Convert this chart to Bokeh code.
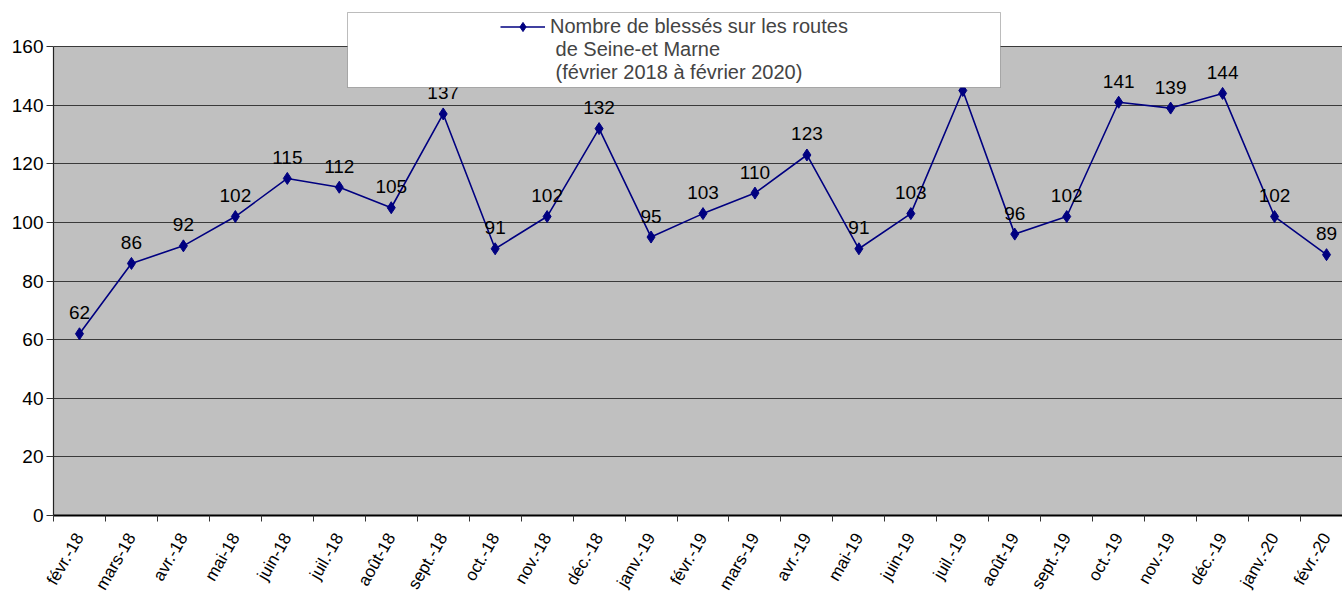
import math
from bokeh.plotting import figure
from bokeh.models import (ColumnDataSource, FixedTicker, Legend, LegendItem, BoxAnnotation)
from bokeh.core.properties import value
from bokeh.embed import file_html
from bokeh.resources import INLINE

months = ["févr.-18", "mars-18", "avr.-18", "mai-18", "juin-18", "juil.-18", "août-18",
          "sept.-18", "oct.-18", "nov.-18", "déc.-18", "janv.-19", "févr.-19", "mars-19",
          "avr.-19", "mai-19", "juin-19", "juil.-19", "août-19", "sept.-19", "oct.-19",
          "nov.-19", "déc.-19", "janv.-20", "févr.-20"]
blesses = [62, 86, 92, 102, 115, 112, 105, 137, 91, 102, 132, 95, 103, 110, 123,
           91, 103, 145, 96, 102, 141, 139, 144, 102, 89]
legend_lines = ["Nombre de blessés sur les routes", " de Seine-et Marne",
                " (février 2018 à février 2020)"]
y_ticks = list(range(0, 161, 20))

FONT = "Liberation Sans"
xs = list(range(len(months)))
src = ColumnDataSource(dict(x=xs, y=blesses, lab=[str(v) for v in blesses]))

PX_X = 51.96   # px per category
PX_Y = 2.931   # px per unit
p = figure(width=1342, height=603, output_backend="svg", toolbar_location=None,
           x_range=(-0.5, -0.5 + 1289 / PX_X), y_range=(0, 510 / PX_Y),
           min_border_left=53, min_border_right=0, min_border_top=5, min_border_bottom=88)
p.background_fill_color = "white"
p.border_fill_color = "white"
p.outline_line_color = None

# grey plot area from 0 to 160 (drawn below the grid)
p.add_layout(BoxAnnotation(top=160, fill_color="#c0c0c0", fill_alpha=1.0,
                           line_color=None, level="image"))

p.xgrid.grid_line_color = None
p.ygrid.grid_line_color = "#3a3a3a"
p.ygrid.grid_line_width = 1
p.ygrid.ticker = FixedTicker(ticks=y_ticks)

p.yaxis.ticker = FixedTicker(ticks=y_ticks)
p.yaxis.bounds = (0, 160)
p.yaxis.axis_line_color = "#222222"
p.yaxis.axis_line_width = 1.2
p.yaxis.major_tick_in = 0
p.yaxis.major_tick_out = 7
p.yaxis.major_tick_line_color = "#333333"
p.yaxis.minor_tick_line_color = None
p.yaxis.major_label_text_font = FONT
p.yaxis.major_label_text_font_size = "19px"
p.yaxis.major_label_text_color = "black"
p.yaxis.major_label_standoff = 3

p.xaxis.ticker = FixedTicker(ticks=xs, minor_ticks=[i - 0.5 for i in range(len(months) + 1)])
p.xaxis.major_label_overrides = {i: m for i, m in enumerate(months)}
p.xaxis.major_tick_line_color = None
p.xaxis.minor_tick_in = 0
p.xaxis.minor_tick_out = 6
p.xaxis.minor_tick_line_color = "#333333"
p.xaxis.axis_line_color = "black"
p.xaxis.axis_line_width = 2
p.xaxis.major_label_orientation = math.pi / 3
p.xaxis.major_label_text_font = FONT
p.xaxis.major_label_text_font_size = "17px"
p.xaxis.major_label_text_color = "black"
p.xaxis.major_label_standoff = 13

line = p.line("x", "y", source=src, line_color="#000080", line_width=1.6)
pts = p.scatter("x", "y", source=src, marker="diamond", size=12,
                fill_color="#000080", line_color="#000080")
p.text("x", "y", text="lab", source=src, text_align="center", text_baseline="middle",
       y_offset=-21, text_font=value(FONT), text_font_size="19px", text_color="black")

box = BoxAnnotation(left=-0.5 + (347 - 53) / PX_X, right=-0.5 + (1000 - 53) / PX_X,
                    top=(515 - 12) / PX_Y, bottom=(515 - 87) / PX_Y,
                    fill_color="white", fill_alpha=1.0, line_color="#222222", line_width=1)
p.add_layout(box)

d1 = p.scatter([], [], line_alpha=0, fill_alpha=0)
d2 = p.scatter([], [], line_alpha=0, fill_alpha=0)
items = [LegendItem(label=legend_lines[0], renderers=[line, pts]),
         LegendItem(label=legend_lines[1], renderers=[d1]),
         LegendItem(label=legend_lines[2], renderers=[d2])]
leg = Legend(items=items, location=(447, 431), padding=0, spacing=0,
             border_line_color=None, background_fill_alpha=0,
             label_text_font=FONT, label_text_font_size="20px",
             label_height=23, glyph_height=23, glyph_width=45, label_standoff=5,
             margin=0)
p.add_layout(leg, "center")

open("out.html", "w").write(file_html(p, INLINE))
